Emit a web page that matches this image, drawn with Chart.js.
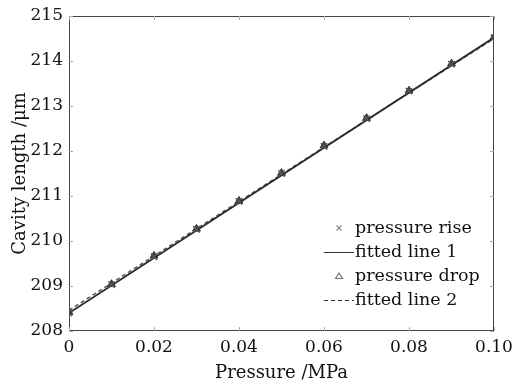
<!DOCTYPE html>
<html>
<head>
<meta charset="utf-8">
<script src="https://cdn.jsdelivr.net/npm/chart.js@4.4.1/dist/chart.umd.min.js"></script>
<style>
  html, body { margin: 0; padding: 0; background: #fff; }
  #wrap { width: 515px; height: 386px; position: relative; }
</style>
</head>
<body>
<div id="wrap"><canvas id="cavityChart"></canvas></div>
<script>
// DATA
const pressure = [0, 0.01, 0.02, 0.03, 0.04, 0.05, 0.06, 0.07, 0.08, 0.09, 0.10];
const riseLength = [208.40, 209.03, 209.65, 210.26, 210.88, 211.50, 212.10, 212.72, 213.33, 213.93, 214.52];
const dropLength = [208.42, 209.04, 209.67, 210.27, 210.89, 211.51, 212.12, 212.73, 213.34, 213.94, 214.53];
const fit1Ends = [208.40, 214.52];
const fit2Ends = [208.46, 214.50];
const xTicks = ['0', '0.02', '0.04', '0.06', '0.08', '0.10'];
const yTicks = [208, 209, 210, 211, 212, 213, 214, 215];

const serif = '"DejaVu Serif", "Liberation Serif", serif';

const toPts = (ys) => ys.map((y, i) => ({ x: pressure[i], y: y }));
const endPts = (ys) => [{ x: pressure[0], y: ys[0] }, { x: pressure[pressure.length - 1], y: ys[1] }];

// frame + inward ticks on all four sides
const framePlugin = {
  id: 'frame',
  afterDraw(chart) {
    const { ctx, chartArea: a, scales } = chart;
    ctx.save();
    ctx.strokeStyle = '#444';
    ctx.lineWidth = 1;
    ctx.strokeRect(a.left + 0.5, a.top + 0.5, a.right - a.left - 1, a.bottom - a.top - 1);
    ctx.strokeStyle = '#aaa';
    const len = 4;
    ctx.beginPath();
    scales.x.ticks.forEach((t) => {
      const px = Math.round(scales.x.getPixelForValue(t.value)) + 0.5;
      ctx.moveTo(px, a.bottom); ctx.lineTo(px, a.bottom - len);
      ctx.moveTo(px, a.top); ctx.lineTo(px, a.top + len);
    });
    scales.y.ticks.forEach((t) => {
      const py = Math.round(scales.y.getPixelForValue(t.value)) + 0.5;
      ctx.moveTo(a.left, py); ctx.lineTo(a.left + len, py);
      ctx.moveTo(a.right, py); ctx.lineTo(a.right - len, py);
    });
    ctx.stroke();
    ctx.restore();
  }
};

// legend drawn inside the plot, lower right
const innerLegend = {
  id: 'innerLegend',
  afterDraw(chart) {
    const { ctx } = chart;
    const textX = 355, symX = 339, lineFrom = 324, lineTo = 354;
    const rows = [228, 252, 276, 300];
    ctx.save();
    ctx.font = '17.5px ' + serif;
    ctx.fillStyle = '#111';
    ctx.textBaseline = 'middle';
    chart.data.datasets.forEach((ds, i) => {
      const y = rows[i];
      ctx.fillText(ds.label, textX, y);
      ctx.beginPath();
      if (ds.type === 'line') {
        ctx.strokeStyle = '#333';
        ctx.lineWidth = 1;
        ctx.setLineDash(ds.borderDash || []);
        ctx.moveTo(lineFrom, y + 0.5); ctx.lineTo(lineTo, y + 0.5);
        ctx.stroke();
        ctx.setLineDash([]);
      } else if (ds.pointStyle === 'crossRot') {
        ctx.strokeStyle = '#888';
        ctx.lineWidth = 1.2;
        ctx.moveTo(symX - 2.5, y - 2.5); ctx.lineTo(symX + 2.5, y + 2.5);
        ctx.moveTo(symX - 2.5, y + 2.5); ctx.lineTo(symX + 2.5, y - 2.5);
        ctx.stroke();
      } else {
        ctx.strokeStyle = '#777';
        ctx.lineWidth = 1.2;
        ctx.moveTo(symX, y - 3); ctx.lineTo(symX + 3.5, y + 2.5); ctx.lineTo(symX - 3.5, y + 2.5);
        ctx.closePath();
        ctx.stroke();
      }
    });
    ctx.restore();
  }
};

const config = {
  type: 'scatter',
  data: {
    datasets: [
      {
        label: 'pressure rise',
        data: toPts(riseLength),
        pointStyle: 'crossRot',
        radius: 4.5,
        borderColor: '#555',
        borderWidth: 1.5,
        showLine: false
      },
      {
        type: 'line',
        label: 'fitted line 1',
        data: endPts(fit1Ends),
        borderColor: '#2a2a2a',
        borderWidth: 1.8,
        pointRadius: 0,
        fill: false
      },
      {
        label: 'pressure drop',
        data: toPts(dropLength),
        pointStyle: 'triangle',
        radius: 4.5,
        backgroundColor: '#444',
        borderColor: '#333',
        borderWidth: 1,
        showLine: false
      },
      {
        type: 'line',
        label: 'fitted line 2',
        data: endPts(fit2Ends),
        borderColor: '#555',
        borderWidth: 1.5,
        borderDash: [4, 3],
        pointRadius: 0,
        fill: false
      }
    ]
  },
  options: {
    responsive: true,
    maintainAspectRatio: false,
    animation: false,
    layout: { padding: { top: 16, right: 21, left: 2, bottom: 2 } },
    plugins: {
      legend: { display: false },
      tooltip: { enabled: false }
    },
    scales: {
      x: {
        type: 'linear',
        min: 0,
        max: 0.1,
        afterBuildTicks: (scale) => { scale.ticks = xTicks.map((v) => ({ value: parseFloat(v) })); },
        afterFit: (scale) => {
          scale.height = 53;
          scale.paddingLeft = 0;
          scale.paddingRight = 0;
        },
        grid: { display: false, drawTicks: false },
        border: { display: false },
        ticks: {
          padding: 6,
          color: '#111',
          font: { family: serif, size: 17 },
          callback: (v) => xTicks.find((t) => parseFloat(t) === v)
        },
        title: {
          display: true,
          text: 'Pressure /MPa',
          color: '#111',
          font: { family: serif, size: 18 },
          padding: { top: -4, bottom: 0 }
        }
      },
      y: {
        type: 'linear',
        min: 208,
        max: 215,
        afterBuildTicks: (scale) => { scale.ticks = yTicks.map((v) => ({ value: v })); },
        afterFit: (scale) => {
          scale.width = 67;
          scale.paddingTop = 0;
          scale.paddingBottom = 0;
        },
        grid: { display: false, drawTicks: false },
        border: { display: false },
        ticks: {
          padding: 6,
          color: '#111',
          font: { family: serif, size: 17 }
        },
        title: {
          display: true,
          text: 'Cavity length /μm',
          color: '#111',
          font: { family: serif, size: 18 },
          padding: { top: 8, bottom: 0 }
        }
      }
    }
  },
  plugins: [framePlugin, innerLegend]
};

new Chart(document.getElementById('cavityChart'), config);
</script>
</body>
</html>
